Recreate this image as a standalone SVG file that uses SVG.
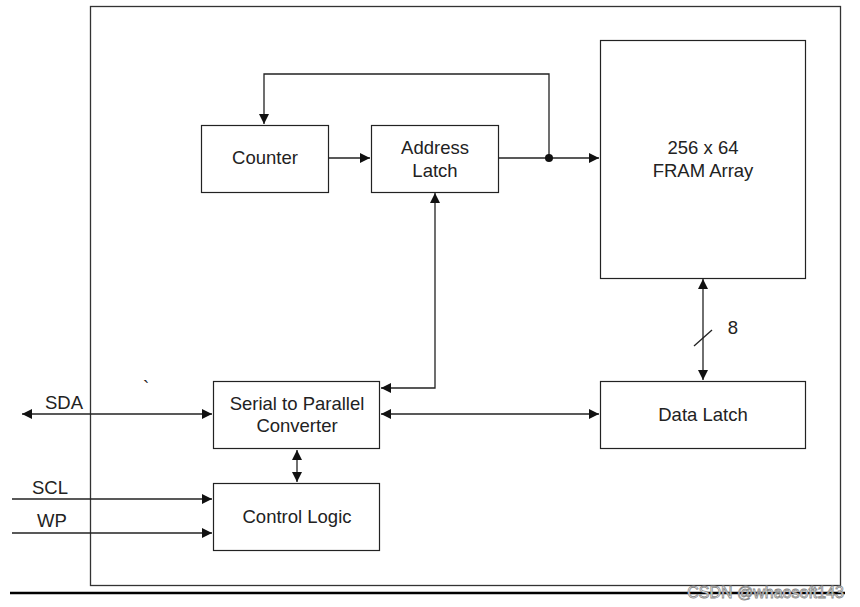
<svg xmlns="http://www.w3.org/2000/svg" width="860" height="607" viewBox="0 0 860 607">
<style>
.box{fill:#fff;stroke:#222;stroke-width:1.2}
.ln{fill:none;stroke:#222;stroke-width:1.3}
text{font-family:"Liberation Sans",Arial,sans-serif;font-size:18.5px;fill:#222}
.c{text-anchor:middle}
</style>
<defs>
<marker id="ah" viewBox="0 0 10 10" refX="10" refY="5" markerWidth="10" markerHeight="10" markerUnits="userSpaceOnUse" orient="auto-start-reverse">
<path d="M0,0 L10,5 L0,10 z" fill="#111"/>
</marker>
</defs>
<rect width="860" height="607" fill="#fff"/>
<rect x="90.5" y="6.5" width="750" height="579" fill="none" stroke="#333" stroke-width="1.3"/>
<line x1="10" y1="593" x2="845" y2="593" stroke="#000" stroke-width="2.5"/>

<g id="connectors">
<polyline class="ln" points="549,158 549,74 264,74 264,124" marker-end="url(#ah)"/>
<line class="ln" x1="329" y1="158" x2="370" y2="158" marker-end="url(#ah)"/>
<line class="ln" x1="499" y1="158" x2="599" y2="158" marker-end="url(#ah)"/>
<circle cx="549" cy="158" r="4" fill="#111"/>
<polyline class="ln" points="435,193 435,388 381,388" marker-start="url(#ah)" marker-end="url(#ah)"/>
<line class="ln" x1="22" y1="414" x2="212" y2="414" marker-start="url(#ah)" marker-end="url(#ah)"/>
<line class="ln" x1="381" y1="414" x2="599" y2="414" marker-start="url(#ah)" marker-end="url(#ah)"/>
<line class="ln" x1="297" y1="450" x2="297" y2="482" marker-start="url(#ah)" marker-end="url(#ah)"/>
<line class="ln" x1="12" y1="499" x2="212" y2="499" marker-end="url(#ah)"/>
<line class="ln" x1="12" y1="533" x2="212" y2="533" marker-end="url(#ah)"/>
<line class="ln" x1="703" y1="279" x2="703" y2="380" marker-start="url(#ah)" marker-end="url(#ah)"/>
<line class="ln" x1="694" y1="346" x2="712" y2="330"/>
<text x="733" y="334" class="c">8</text>
<text x="64" y="409" class="c">SDA</text>
<text x="50" y="494" class="c">SCL</text>
<text x="52" y="527" class="c">WP</text>
<text x="146" y="394" class="c">`</text>
</g>

<g id="counter">
<rect class="box" x="201.5" y="125.5" width="127" height="67"/>
<text x="265" y="164" class="c">Counter</text>
</g>
<g id="address-latch">
<rect class="box" x="371.5" y="125.5" width="127" height="67"/>
<text x="435" y="154" class="c">Address</text>
<text x="435" y="177" class="c">Latch</text>
</g>
<g id="fram-array">
<rect class="box" x="600.5" y="40.5" width="205" height="238"/>
<text x="703" y="154" class="c">256 x 64</text>
<text x="703" y="177" class="c">FRAM Array</text>
</g>
<g id="serial-to-parallel">
<rect class="box" x="213.5" y="381.5" width="166" height="67"/>
<text x="297" y="410" class="c">Serial to Parallel</text>
<text x="297" y="432" class="c">Converter</text>
</g>
<g id="control-logic">
<rect class="box" x="213.5" y="483.5" width="166" height="67"/>
<text x="297" y="523" class="c">Control Logic</text>
</g>
<g id="data-latch">
<rect class="box" x="600.5" y="381.5" width="205" height="67"/>
<text x="703" y="421" class="c">Data Latch</text>
</g>
<text x="844" y="598" text-anchor="end" style="font-size:16px;fill:#fff;stroke:#888;stroke-width:0.8">CSDN @whaosoft143</text>
</svg>
